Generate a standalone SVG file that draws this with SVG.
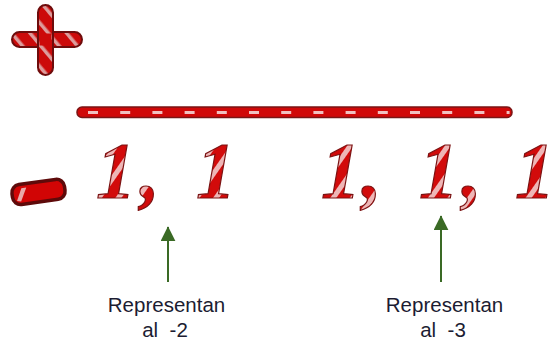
<svg xmlns="http://www.w3.org/2000/svg" width="557" height="344" viewBox="0 0 557 344">
  <style>
    .cane { fill: url(#cane); stroke: #6e0c0c; stroke-width: 2; }
    .digit { font-family: "Liberation Serif", serif; font-style: italic; font-weight: bold; font-size: 80px; fill: url(#caneText); stroke: #7a1212; stroke-width: 1.2; }
    .label { font-family: "Liberation Sans", Arial, sans-serif; font-size: 20.5px; fill: #1c1c32; text-anchor: middle; }
    .arrow { stroke: #3a6a25; stroke-width: 2; fill: none; }
    .dash { fill: #f0c0c0; }
  </style>
  <defs>
    <pattern id="cane" patternUnits="userSpaceOnUse" width="14" height="14" patternTransform="rotate(-40)">
      <rect width="14" height="14" fill="#cc0a0a"/>
      <rect width="3.5" height="14" fill="#dc9c9c"/>
    </pattern>
    <pattern id="caneText" patternUnits="userSpaceOnUse" width="16" height="16" patternTransform="rotate(35)">
      <rect width="16" height="16" fill="#d20b0b"/>
      <rect width="5" height="16" fill="#eeb6b6"/>
    </pattern>
    <marker id="head" viewBox="0 0 10 10" refX="9.5" refY="5" markerWidth="15" markerHeight="15" markerUnits="userSpaceOnUse" orient="auto">
      <path d="M0,0 L10,5 L0,10 Z" fill="#3a6a25"/>
    </marker>
  </defs>

  <g id="plus">
    <rect class="cane" x="12" y="32" width="70" height="15" rx="7.5"/>
    <rect class="cane" x="38" y="5" width="15" height="70" rx="7.5"/>
    <rect x="39.5" y="33.5" width="12" height="12" fill="#cc0a0a"/>
  </g>

  <g id="bar">
    <rect x="77" y="107" width="435" height="10.5" rx="5" fill="#d00808" stroke="#7a1515" stroke-width="1.5"/>
    <g class="dash">
      <rect x="88" y="111" width="10" height="3"/>
      <rect x="120.2" y="111" width="10" height="3"/>
      <rect x="152.4" y="111" width="10" height="3"/>
      <rect x="184.6" y="111" width="10" height="3"/>
      <rect x="216.8" y="111" width="10" height="3"/>
      <rect x="249" y="111" width="10" height="3"/>
      <rect x="281.2" y="111" width="10" height="3"/>
      <rect x="313.4" y="111" width="10" height="3"/>
      <rect x="345.6" y="111" width="10" height="3"/>
      <rect x="377.8" y="111" width="10" height="3"/>
      <rect x="410" y="111" width="10" height="3"/>
      <rect x="442.2" y="111" width="10" height="3"/>
      <rect x="474.4" y="111" width="10" height="3"/>
      <rect x="506.6" y="111" width="3" height="3"/>
    </g>
  </g>

  <g id="minus" transform="rotate(-8 38 192)">
    <rect x="12" y="182" width="53" height="20" rx="8" fill="#d10505" stroke="#5e0a0a" stroke-width="3.5"/>
    <path d="M16,198 L22,186 L27,186 L20,199 Z" fill="#e9a9a9"/>
  </g>

  <g id="digits">
    <text class="digit" y="198"><tspan x="96">1</tspan><tspan x="140">,</tspan> <tspan x="196">1</tspan> <tspan x="321">1</tspan><tspan x="362">,</tspan> <tspan x="419">1</tspan><tspan x="462">,</tspan> <tspan x="515">1</tspan></text>
  </g>

  <g id="connectors">
    <line class="arrow" x1="168" y1="282" x2="168" y2="227" marker-end="url(#head)"/>
    <line class="arrow" x1="441" y1="282" x2="441" y2="216" marker-end="url(#head)"/>
  </g>

  <g id="label1">
    <text class="label" x="166.5" y="312">Representan</text>
    <text class="label" x="165" y="337" xml:space="preserve">al  -2</text>
  </g>
  <g id="label2">
    <text class="label" x="444.5" y="312">Representan</text>
    <text class="label" x="443" y="337" xml:space="preserve">al  -3</text>
  </g>
</svg>
